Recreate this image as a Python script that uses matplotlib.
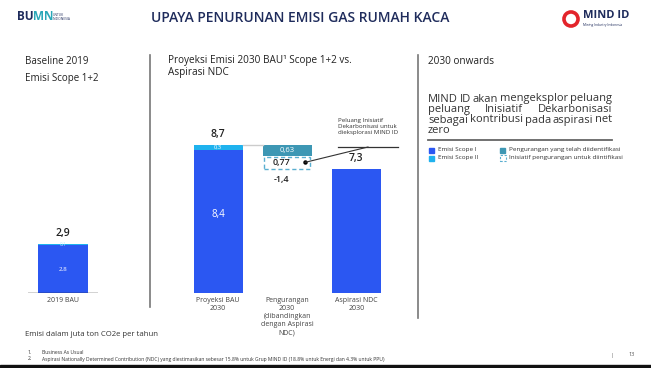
import matplotlib
matplotlib.use('Agg')
import matplotlib.pyplot as plt
from matplotlib.patches import Rectangle, Circle

plt.rcParams['font.family'] = ['Open Sans', 'DejaVu Sans']

# data
base_labels = ['2019 BAU']
base_scope1 = [2.8]
base_scope2 = [0.1]
base_total = [2.9]

mid_labels = ['Proyeksi BAU\n2030', 'Pengurangan\n2030\n(dibandingkan\ndengan Aspirasi\nNDC)', 'Aspirasi NDC\n2030']
bau_scope1 = 8.4
bau_scope2 = 0.3
bau_total = 8.7
red_identified = 0.63
red_explore = 0.77
red_total = -1.4
ndc_target = 7.3

BLUE = '#2b57f2'
CYAN = '#1fb2ee'
TEAL = '#3d97b4'
DASH = '#5aaed0'
NAVY = '#1f2c5c'
GREY = '#444444'

W, H = 651, 368
fig = plt.figure(figsize=(W / 100, H / 100), dpi=100)


def rect(x0, y0, x1, y1):
    return [x0 / W, 1 - y1 / H, (x1 - x0) / W, (y1 - y0) / H]


def ftext(x, y, s, **kw):
    return fig.text(x / W, 1 - y / H, s, **kw)


# header
ftext(300, 18, 'UPAYA PENURUNAN EMISI GAS RUMAH KACA', ha='center', va='center',
      fontsize=10, fontweight='semibold', color=NAVY)
ftext(17, 17, 'BU', ha='left', va='center', fontsize=8.5, fontweight='bold', color=NAVY)
ftext(33, 17, 'MN', ha='left', va='center', fontsize=8.5, fontweight='bold', color='#2aa7b8')
ftext(53, 17, 'UNTUK\nINDONESIA', ha='left', va='center', fontsize=2.3, color=NAVY, linespacing=1.0)
lax = fig.add_axes(rect(562, 10, 580, 28))
lax.set_xlim(-1, 1); lax.set_ylim(-1, 1); lax.set_aspect('equal'); lax.axis('off')
lax.add_patch(Circle((0, 0), 0.78, fill=False, lw=2.6, color='#e3242b'))
ftext(583, 16, 'MIND ID', ha='left', va='center', fontsize=8, fontweight='bold', color=NAVY)
ftext(583, 25, 'Mining Industry Indonesia', ha='left', va='center', fontsize=2.3, color=NAVY)

# panel titles
ftext(25, 62, 'Baseline 2019', ha='left', va='center', fontsize=7, color='#222')
ftext(25, 79, 'Emisi Scope 1+2', ha='left', va='center', fontsize=7, color='#222')
ftext(168, 60, 'Proyeksi Emisi 2030 BAU¹ Scope 1+2 vs.', ha='left', va='center', fontsize=7.2, color='#222')
ftext(168, 73, 'Aspirasi NDC', ha='left', va='center', fontsize=7.2, color='#222')
ftext(428, 62, '2030 onwards', ha='left', va='center', fontsize=7.2, color='#222')

# dividers
fig.add_artist(plt.Line2D([150 / W, 150 / W], [1 - 55 / H, 1 - 307 / H], color='#777', lw=1.2))
fig.add_artist(plt.Line2D([418 / W, 418 / W], [1 - 55 / H, 1 - 318 / H], color='#777', lw=1.2))

YMAX = 193 / 17.0

# left panel
ax0 = fig.add_axes(rect(28, 100, 98, 293))
ax0.bar([0], base_scope1, width=0.71, color=BLUE)
ax0.bar([0], base_scope2, bottom=base_scope1, width=0.71, color=CYAN)
ax0.text(0, base_scope1[0] / 2, '2.8', ha='center', va='center', fontsize=4.5, color='white')
ax0.text(0, base_scope1[0] + base_scope2[0] / 2, '0.1', ha='center', va='center', fontsize=3.5, color='#bfe9ff')
ax0.text(0, base_total[0] + 0.3, '2,9', ha='center', va='bottom', fontsize=7.5, fontweight='semibold', color='#222')
ax0.axhline(0, color='#222', lw=1)
ax0.set_xlim(-0.5, 0.5)
ax0.set_ylim(0, YMAX)
ax0.set_xticks([0], base_labels, fontsize=5, color=GREY)
ax0.tick_params(length=0, pad=3)
ax0.set_yticks([])
for s in ax0.spines.values():
    s.set_visible(False)
ax0.patch.set_alpha(0)

# middle panel
ax = fig.add_axes(rect(168, 100, 406, 293))
bw = 0.71
ax.bar(0, bau_scope1, width=bw, color=BLUE)
ax.bar(0, bau_scope2, bottom=bau_scope1, width=bw, color=CYAN)
ax.text(0, bau_scope1 * 0.55, '8,4', ha='center', va='center', fontsize=7, color='white')
ax.text(0, bau_scope1 + bau_scope2 / 2, '0,3', ha='center', va='center', fontsize=4.2, color='white')
ax.text(0, bau_total + 0.3, '8,7', ha='center', va='bottom', fontsize=7.5, fontweight='semibold', color='#222')

ax.plot([bw / 2, 1 - bw / 2], [bau_total, bau_total], color='#cccccc', lw=1)
low = bau_total + red_total
ax.bar(1, red_identified, bottom=bau_total - red_identified, width=bw, color=TEAL)
ax.text(1, bau_total - red_identified / 2, '0,63', ha='center', va='center', fontsize=5.5, color='white')
ax.add_patch(Rectangle((1 - bw / 2 + 0.02, low), bw - 0.04, red_explore - 0.05, fill=False,
                       edgecolor=DASH, lw=1, linestyle=(0, (3, 2))))
ymid = low + red_explore / 2
ax.text(0.92, ymid, '0,77', ha='center', va='center', fontsize=6.5, fontweight='semibold', color='#222')
ax.text(0.92, low - 0.35, '-1,4', ha='center', va='top', fontsize=6.5, fontweight='semibold', color='#222')
ax.plot([1.26], [ymid], 'o', color='black', ms=2.2)

ax.bar(2, ndc_target, width=bw, color=BLUE)
ax.text(2, ndc_target + 0.3, '7,3', ha='center', va='bottom', fontsize=7.5, fontweight='semibold', color='#222')

ax.set_xlim(-0.725, 2.72)
ax.set_ylim(0, YMAX)
ax.set_xticks([0, 1, 2], mid_labels, fontsize=5, color=GREY, linespacing=1.2, va='top')
ax.tick_params(length=0, pad=3)
ax.set_yticks([])
for s in ax.spines.values():
    s.set_visible(False)
ax.patch.set_alpha(0)

# callout
ftext(338, 126, 'Peluang Inisiatif\nDekarbonisasi untuk\ndieksplorasi MIND ID', ha='left', va='center',
      fontsize=4.4, color='#333', linespacing=1.25)
fig.add_artist(plt.Line2D([338 / W, 398 / W], [1 - 147 / H, 1 - 147 / H], color='#333', lw=0.9))
dot = ax.transData.transform((1.26, ymid))
fig.add_artist(plt.Line2D([dot[0] / W, 368 / W], [dot[1] / H, 1 - 147 / H], color='#333', lw=0.8))

# right panel paragraph, justified
para = ['MIND ID akan mengeksplor peluang',
        'peluang Inisiatif Dekarbonisasi',
        'sebagai kontribusi pada aspirasi net',
        'zero']
renderer = fig.canvas.get_renderer()
x0, x1 = 428, 612
for i, line in enumerate(para):
    yy = 99 + i * 10.5
    words = line.split()
    if i == len(para) - 1:
        ftext(x0, yy, line, ha='left', va='center', fontsize=8, color='#333')
        continue
    objs = [ftext(x0, yy, w, ha='left', va='center', fontsize=8, color='#333') for w in words]
    widths = [o.get_window_extent(renderer).width for o in objs]
    gap = (x1 - x0 - sum(widths)) / (len(words) - 1)
    xx = x0
    for o, w in zip(objs, widths):
        o.set_x(xx / W)
        xx += w + gap
fig.add_artist(plt.Line2D([428 / W, 612 / W], [1 - 139.5 / H, 1 - 139.5 / H], color='#666', lw=1.3))

# legend
leg = [(429, 150, BLUE, 'Emisi Scope I', 'solid'),
       (429, 158, CYAN, 'Emisi Scope II', 'solid'),
       (500, 150, TEAL, 'Pengurangan yang telah diidentifikasi', 'solid'),
       (500, 158, DASH, 'Inisiatif pengurangan untuk diintifikasi', 'dash')]
for lx, ly, c, lab, kind in leg:
    if kind == 'solid':
        fig.add_artist(Rectangle(((lx) / W, 1 - (ly + 2.5) / H), 5 / W, 5 / H, color=c))
    else:
        fig.add_artist(Rectangle(((lx) / W, 1 - (ly + 3) / H), 6 / W, 6 / H, fill=False,
                                 edgecolor=c, lw=0.8, linestyle=(0, (2, 1.5))))
    ftext(lx + 9, ly, lab, ha='left', va='center', fontsize=4.6, color='#333')

# footer
ftext(25, 335, 'Emisi dalam juta ton CO2e per tahun', ha='left', va='center', fontsize=5.6, color='#333')
ftext(28, 352, '1.', ha='left', va='center', fontsize=3.6, color='#333')
ftext(42, 352, 'Business As Usual', ha='left', va='center', fontsize=3.6, color='#333')
ftext(28, 359, '2.', ha='left', va='center', fontsize=3.6, color='#333')
ftext(42, 359, 'Aspirasi Nationally Determined Contribution (NDC) yang diestimasikan sebesar 15.8% untuk Grup MIND ID '
               '(18.8% untuk Energi dan 4.3% untuk PPU)', ha='left', va='center', fontsize=3.6, color='#333')
ftext(612, 355, '|', ha='center', va='center', fontsize=4.5, color='#555')
ftext(632, 355, '13', ha='center', va='center', fontsize=4, color='#555')
fig.add_artist(Rectangle((0, 0), 1, 3 / H, color='#111'))

fig.savefig('out.png', dpi=100)
